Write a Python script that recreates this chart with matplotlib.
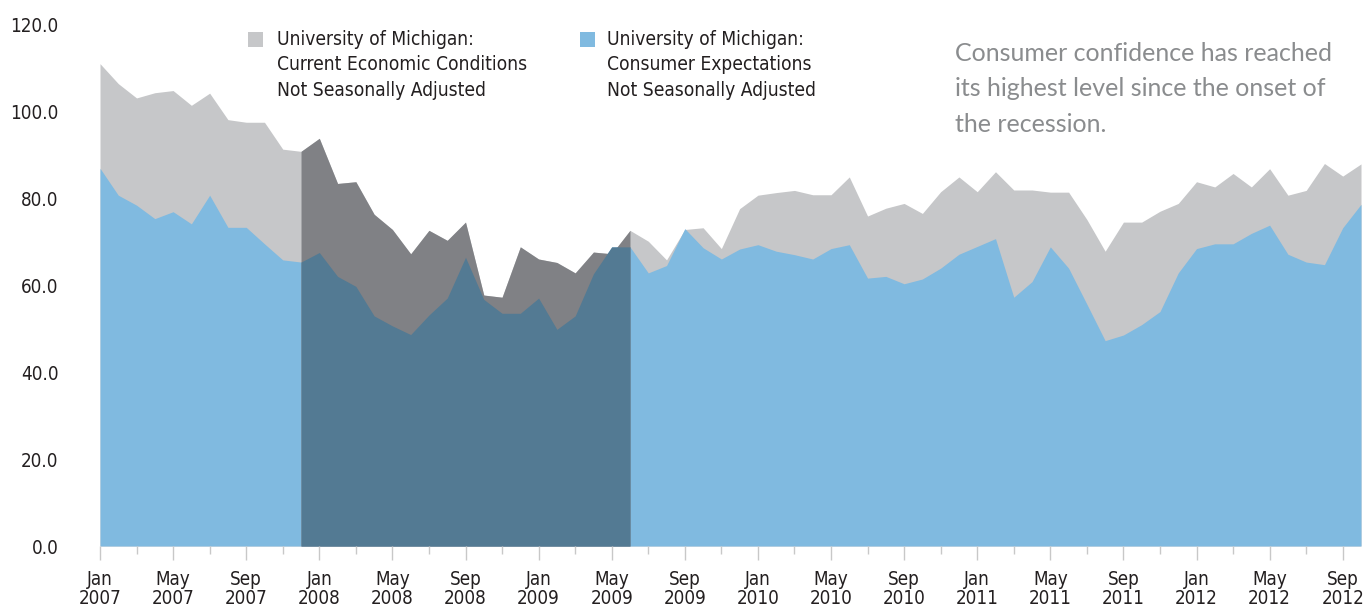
import numpy as np
import matplotlib
matplotlib.use("Agg")
import matplotlib.pyplot as plt
from matplotlib.patches import Rectangle

# monthly index values, Jan 2007 .. Oct 2012
current = [111.1, 106.5, 103.2, 104.4, 104.9, 101.5, 104.3, 98.2, 97.6, 97.6, 91.4, 90.9,
           93.9, 83.5, 83.9, 76.4, 72.9, 67.3, 72.7, 70.4, 74.6, 57.8, 57.3, 68.9,
           66.1, 65.3, 62.9, 67.7, 67.3, 72.7, 70.2, 65.9, 72.9, 73.3, 68.5, 77.7,
           80.8, 81.4, 81.9, 80.9, 80.9, 85.0, 76.0, 77.8, 78.9, 76.6, 81.6, 85.0,
           81.6, 86.2, 82.0, 82.0, 81.5, 81.5, 75.2, 67.9, 74.6, 74.6, 77.1, 78.9,
           83.9, 82.7, 85.8, 82.7, 86.9, 80.8, 81.9, 88.1, 85.2, 88.0]
expectations = [87.0, 80.8, 78.5, 75.4, 77.0, 74.2, 80.8, 73.4, 73.4, 69.6, 65.9, 65.4,
                67.6, 62.1, 59.8, 53.0, 50.7, 48.7, 53.2, 57.1, 66.5, 56.8, 53.6, 53.6,
                57.1, 49.9, 53.0, 62.7, 68.9, 68.9, 62.9, 64.6, 73.1, 68.7, 66.1, 68.4,
                69.4, 67.9, 67.1, 66.1, 68.5, 69.4, 61.7, 62.1, 60.4, 61.5, 64.0, 67.2,
                69.0, 70.8, 57.3, 60.9, 68.9, 64.0, 55.7, 47.3, 48.6, 51.0, 54.0, 62.9,
                68.5, 69.6, 69.6, 72.0, 73.9, 67.2, 65.4, 64.8, 73.3, 78.7]
month_names = ['Jan', 'Feb', 'Mar', 'Apr', 'May', 'Jun', 'Jul', 'Aug', 'Sep', 'Oct', 'Nov', 'Dec']
start_year = 2007
recession = (11, 29)  # Dec 2007 .. Jun 2009
y_ticks = [0, 20, 40, 60, 80, 100, 120]

legend_labels = ["University of Michigan:\nCurrent Economic Conditions\nNot Seasonally Adjusted",
                 "University of Michigan:\nConsumer Expectations\nNot Seasonally Adjusted"]
note = "Consumer confidence has reached\nits highest level since the onset of\nthe recession."

GRAY = '#c6c7c9'
BLUE = '#80bae0'
DARK_GRAY = '#808185'
DARK_BLUE = '#537a93'

plt.rcParams['font.family'] = ['DejaVu Sans']
plt.rcParams['font.stretch'] = 'condensed'

fig = plt.figure(figsize=(13.64, 6.09), dpi=100)
ax = fig.add_axes([100 / 1364, 63 / 609, 1261 / 1364, 521 / 609])

x = np.arange(len(current))
cur = np.array(current)
exp_ = np.array(expectations)
ax.fill_between(x, cur, color=GRAY, lw=0)
ax.fill_between(x, exp_, color=BLUE, lw=0)
# recession months drawn again in darker tones
r0, r1 = recession
ax.fill_between(x[r0:r1 + 1], cur[r0:r1 + 1], color=DARK_GRAY, lw=0)
ax.fill_between(x[r0:r1 + 1], exp_[r0:r1 + 1], color=DARK_BLUE, lw=0)

ax.set_xlim(0, len(current) - 1)
ax.set_ylim(0, 120)
for s in ax.spines.values():
    s.set_visible(False)

major = x[::4]
minor = x[2::4]
ax.set_xticks(major)
ax.set_xticklabels([f"{month_names[i % 12]}\n{start_year + i // 12}" for i in major],
                   linespacing=1.05)
ax.set_xticks(minor, minor=True)
ax.tick_params(axis='x', which='major', length=10, width=1, color='#c8c8c8',
               labelsize=13.5, labelcolor='#231f20', pad=7)
ax.tick_params(axis='x', which='minor', length=6, width=1, color='#c8c8c8')

ax.set_yticks(y_ticks)
ax.set_yticklabels([f"{v:.1f}" for v in y_ticks])
ax.tick_params(axis='y', length=0, pad=30, labelsize=13.5, labelcolor='#231f20')

# legend
for sx, tx, col, lab in [(248, 277, GRAY, legend_labels[0]), (580, 607, BLUE, legend_labels[1])]:
    fig.add_artist(Rectangle((sx / 1364, 1 - 47 / 609), 15 / 1364, 15 / 609,
                             transform=fig.transFigure, color=col, lw=0))
    fig.text(tx / 1364, 1 - 30 / 609, lab, fontsize=13.8, color='#231f20',
             va='top', ha='left', linespacing=1.42)

fig.text(955 / 1364, 1 - 42 / 609, note, fontsize=18, color='#8a8c8e', va='top', ha='left',
         family=['Lato', 'DejaVu Sans'], stretch='normal', linespacing=1.65)

fig.savefig('out.png', dpi=100)
